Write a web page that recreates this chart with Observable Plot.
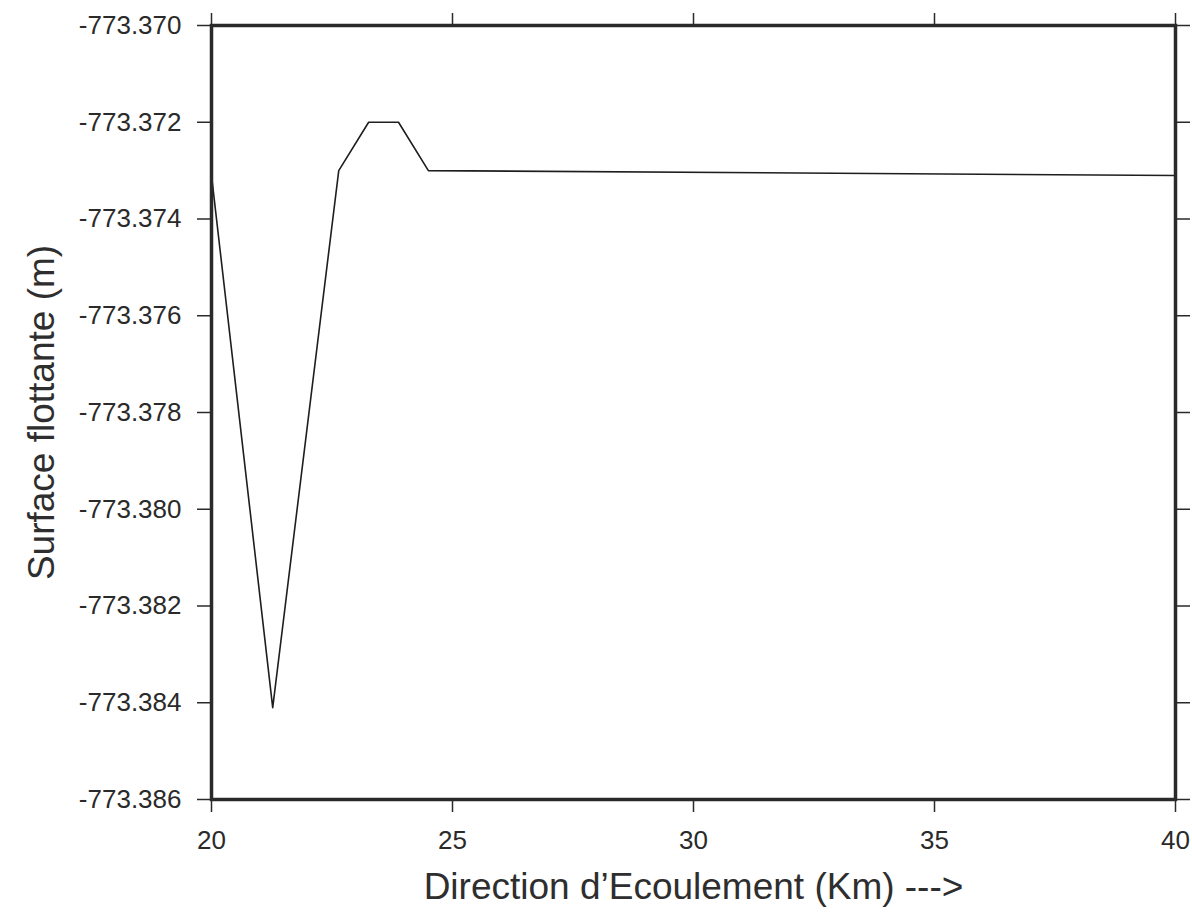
<!DOCTYPE html>
<html>
<head>
<meta charset="utf-8">
<script src="https://cdn.jsdelivr.net/npm/d3@7"></script>
<script src="https://cdn.jsdelivr.net/npm/@observablehq/plot@0.6"></script>
<style>
  html, body { margin: 0; padding: 0; background: #fff; }
  #chart { width: 1192px; height: 917px; }
</style>
</head>
<body>
<div id="chart"></div>
<script>
// Data
const distanceKm = [20, 21.27, 22.64, 23.26, 23.88, 24.5, 40];
const surface = [-773.3731, -773.3841, -773.3730, -773.3720, -773.3720, -773.3730, -773.3731];
const xTicks = [20, 25, 30, 35, 40];
const yTicks = [-773.370, -773.372, -773.374, -773.376, -773.378, -773.380, -773.382, -773.384, -773.386];
const xTitle = ["Direction d\u2019Ecoulement (Km) --->"];
const yTitle = ["Surface flottante (m)"];

const data = distanceKm.map((x, i) => ({x, y: surface[i]}));
const ink = "#2a2a2a";

const chart = Plot.plot({
  width: 1192,
  height: 917,
  marginLeft: 211,
  marginRight: 17,
  marginTop: 25,
  marginBottom: 118,
  style: {fontFamily: "'Liberation Sans', Arial, sans-serif", color: ink, background: "#fff"},
  x: {domain: [20, 40]},
  y: {domain: [-773.386, -773.370]},
  marks: [
    Plot.axisY({ticks: yTicks, tickSize: 14, tickPadding: 16, fontSize: 26, tickFormat: d => d.toFixed(3), label: null, strokeWidth: 1.5}),
    Plot.axisY({anchor: "right", ticks: yTicks, tickSize: 14, tickFormat: () => "", label: null, strokeWidth: 1.5}),
    Plot.axisX({ticks: xTicks, tickSize: 13, tickPadding: 18, fontSize: 26, tickFormat: d => String(d), label: null, strokeWidth: 1.5}),
    Plot.axisX({anchor: "top", ticks: xTicks, tickSize: 13, tickFormat: () => "", label: null, strokeWidth: 1.5}),
    Plot.line(data, {x: "x", y: "y", stroke: "#1e1e1e", strokeWidth: 1.6}),
    Plot.frame({stroke: ink, strokeWidth: 3.5}),
    Plot.text(yTitle, {frameAnchor: "left", dx: -169, rotate: -90, textAnchor: "middle", lineAnchor: "middle", fontSize: 37, fill: "#2e2e2e"}),
    Plot.text(xTitle, {frameAnchor: "bottom", dy: 88, textAnchor: "middle", lineAnchor: "middle", fontSize: 37, fill: "#2e2e2e"})
  ]
});
document.getElementById("chart").appendChild(chart);
</script>
</body>
</html>
